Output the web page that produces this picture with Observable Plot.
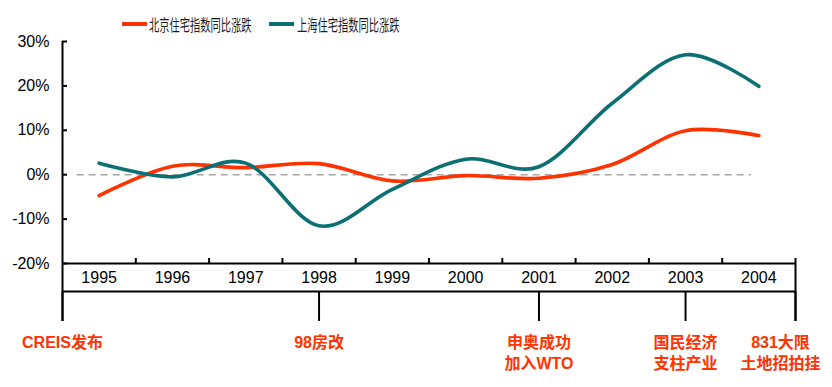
<!DOCTYPE html>
<html>
<head>
<meta charset="utf-8">
<script src="https://cdn.jsdelivr.net/npm/d3@7"></script>
<script src="https://cdn.jsdelivr.net/npm/@observablehq/plot@0.6"></script>
<style>
  body { margin: 0; background: #fff; font-family: "Liberation Sans", Arial, "Noto Sans CJK SC", sans-serif; }
  #wrap { width: 832px; height: 387px; position: relative; overflow: hidden; }
  #legend { position: relative; height: 32px; width: 832px; }
  .sw { position: absolute; top: 22px; height: 4px; width: 25px; }
  .lt { position: absolute; top: 13px; font-size: 16px; line-height: 22px; color: #1a1a1a; white-space: nowrap;
        font-family: "Noto Sans CJK SC", sans-serif; transform: scaleX(0.64); transform-origin: 0 50%; }
</style>
</head>
<body>
<div id="wrap">
  <div id="legend"></div>
  <div id="chart"></div>
</div>
<script>
// ---- data ----
const years = [1995, 1996, 1997, 1998, 1999, 2000, 2001, 2002, 2003, 2004];
const beijing = [-4.7, 1.9, 1.6, 2.5, -1.4, -0.2, -0.8, 2.3, 9.9, 8.8];
const shanghai = [2.6, -0.5, 2.6, -11.5, -3.3, 3.5, 1.8, 16.1, 27.0, 19.9];
const seriesNames = ["北京住宅指数同比涨跌", "上海住宅指数同比涨跌"];
const seriesColors = ["#FF3300", "#0B6F74"];
const yTicks = [-20, -10, 0, 10, 20, 30];
const eventLabels = ["CREIS发布", "98房改", "申奥成功\n加入WTO", "国民经济\n支柱产业", "831大限\n土地招拍挂"];
const eventTimes = [1994.5, 1998, 2001, 2003, 2004.5];
const zeroLineSpan = [1994.7, 2003.9];

// ---- derived tables ----
const xDomain = [years[0] - 0.5, years[years.length - 1] + 0.5];
const rows = [
  ...years.map((y, i) => ({year: y, value: beijing[i], series: seriesNames[0]})),
  ...years.map((y, i) => ({year: y, value: shanghai[i], series: seriesNames[1]}))
];
const boundaries = years.slice(0, -1).map(y => y + 0.5);
const events = eventTimes.map((t, i) => ({t, label: eventLabels[i]}));

// ---- legend ----
const legend = document.getElementById("legend");
const legendPos = [[122, 149], [269, 297]];
seriesNames.forEach((name, i) => {
  const sw = document.createElement("div");
  sw.className = "sw";
  sw.style.left = legendPos[i][0] + "px";
  sw.style.background = seriesColors[i];
  legend.appendChild(sw);
  const t = document.createElement("div");
  t.className = "lt";
  t.style.left = legendPos[i][1] + "px";
  t.textContent = name;
  legend.appendChild(t);
});

const red = seriesColors[0];
const font = '"Liberation Sans", Arial, "Noto Sans CJK SC", sans-serif';

const chart = Plot.plot({
  width: 832,
  height: 355,
  marginTop: 9,
  marginBottom: 124,
  marginLeft: 62,
  marginRight: 37,
  x: {domain: xDomain, axis: null},
  y: {domain: [yTicks[0], yTicks[yTicks.length - 1]], axis: null},
  color: {domain: seriesNames, range: seriesColors},
  style: {fontFamily: font, fontSize: "16px", color: "#000", background: "white", overflow: "visible"},
  marks: [
    // zero reference dashed line
    Plot.ruleY([0], {x1: () => zeroLineSpan[0], x2: () => zeroLineSpan[1], stroke: "#A6A6A6", strokeWidth: 1.6, strokeDasharray: "7,5"}),
    // series lines
    Plot.line(rows, {x: "year", y: "value", z: "series", stroke: "series", strokeWidth: 3.6, curve: "cardinal"}),
    // y axis line (extends down to the timeline)
    Plot.ruleX([xDomain[0]], {stroke: "#000", strokeWidth: 2, insetBottom: -58}),
    // y ticks pointing inward
    Plot.ruleY(yTicks, {x1: () => xDomain[0], x2: () => xDomain[0], insetRight: -5, stroke: "#000", strokeWidth: 2}),
    Plot.axisY(yTicks, {tickSize: 0, tickPadding: 13, tickFormat: d => d + "%", label: null, fontSize: 16}),
    // bottom axis line
    Plot.ruleY([yTicks[0]], {stroke: "#000", strokeWidth: 2}),
    // timeline line
    Plot.ruleY([yTicks[0]], {stroke: "#000", strokeWidth: 2, dy: 28}),
    // category boundary ticks
    Plot.ruleX(boundaries, {stroke: "#000", strokeWidth: 2, insetTop: 217}),
    // right border
    Plot.ruleX([xDomain[1]], {stroke: "#000", strokeWidth: 2, insetTop: 217, insetBottom: -58}),
    // year labels
    Plot.text(years, {x: d => d, frameAnchor: "bottom", dy: 19, text: d => String(d), fontSize: 16, fill: "#000"}),
    // event ticks
    Plot.ruleX(events, {x: "t", stroke: "#000", strokeWidth: 2, insetTop: 250, insetBottom: -58}),
    // event labels
    Plot.text(events.slice(0, -1), {x: "t", text: "label", frameAnchor: "bottom", dy: 70, lineAnchor: "top", lineHeight: 1.28, fontSize: 16, fontWeight: "bold", fill: red}),
    Plot.text(events.slice(-1), {x: "t", text: "label", frameAnchor: "bottom", dy: 70, dx: -15, lineAnchor: "top", lineHeight: 1.28, fontSize: 16, fontWeight: "bold", fill: red})
  ]
});
document.getElementById("chart").appendChild(chart);
</script>
</body>
</html>
